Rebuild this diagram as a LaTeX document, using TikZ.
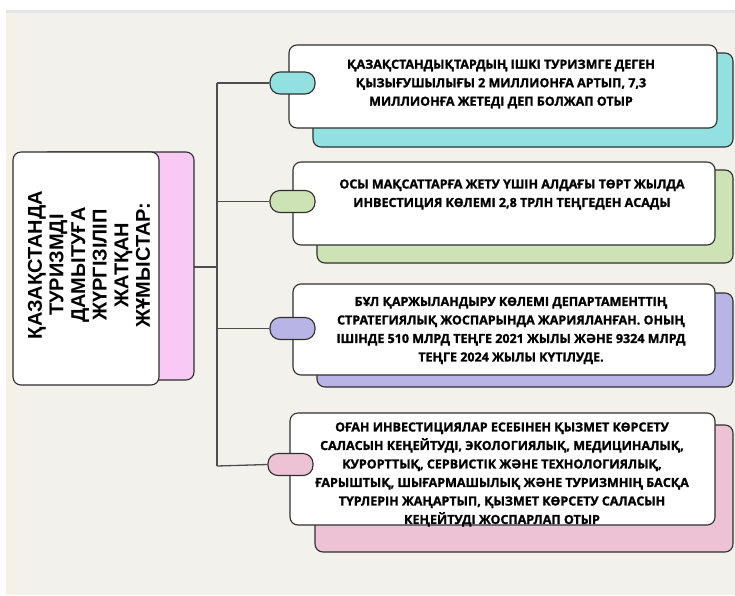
\documentclass[tikz,border=0pt]{standalone}
\usepackage{fontspec}
\setmainfont{Open Sans}[BoldFeatures={FakeBold=1.3}]
\newfontfamily\leftfont{Liberation Sans}
\definecolor{bgbeige}{HTML}{F2F1EC}
\definecolor{bandgrey}{HTML}{E4E5EA}
\definecolor{peach}{HTML}{F7F0E6}
\definecolor{edge}{HTML}{2E2E2E}
\definecolor{cteal}{HTML}{93E0E1}
\definecolor{cgreen}{HTML}{CDE3B5}
\definecolor{cpurple}{HTML}{B9B4E6}
\definecolor{cpink}{HTML}{ECC2D4}
\definecolor{cleft}{HTML}{F9C8F5}
\tikzset{
  frontbox/.style={draw=edge, fill=white, line width=1.1pt, rounded corners=8pt, inner sep=0pt},
  backbox/.style={draw=edge, line width=1.1pt, rounded corners=8pt, inner sep=0pt},
  pill/.style={draw=edge, line width=1.1pt, rounded corners=10pt, minimum width=45pt, minimum height=22pt, inner sep=0pt},
  conn/.style={draw=edge!85, line width=1.3pt},
  bodytext/.style={align=center, text=black, font=\fontsize{12.5}{18.5}\selectfont\bfseries, inner sep=0pt},
  lefttext/.style={align=center, text=black, font=\leftfont\fontsize{20}{21.6}\selectfont\bfseries, inner sep=0pt, rotate=90}
}
\begin{document}
\begin{tikzpicture}[x=1pt,y=-1pt]
\useasboundingbox (0,0) rectangle (735,595);
% background
\fill[white] (0,0) rectangle (735,595);
\fill[bandgrey] (6,10) rectangle (735,13);
\fill[bgbeige] (6,13) rectangle (735,595);
\fill[peach] (6,13) rectangle (14,595);

% connector points
\coordinate (ttop) at (217,83);
\coordinate (tbot) at (217,466);
\coordinate (tmid) at (217,267);

% connectors
\path[conn] (ttop) -- (tbot);
\path[conn] (194,267) -- (tmid);

% left box
\node[backbox, fill=cleft, minimum width=154pt, minimum height=228pt] (lback) at (117,266) {};
\node[frontbox, minimum width=146pt, minimum height=233pt] (lfront) at (86,268.5) {};
\node[lefttext] (ltext) at (89,265) {ҚАЗАҚСТАНДА\\ТУРИЗМДІ\\ДАМЫТУҒА\\ЖҮРГІЗІЛІП\\ЖАТҚАН\\ЖҰМЫСТАР:};

% box 1
\node[backbox, fill=cteal, minimum width=420pt, minimum height=94pt] (b1back) at (523,100) {};
\node[frontbox, minimum width=428pt, minimum height=83pt] (b1) at (503,86.5) {};
\node[pill, fill=cteal] (p1) at (292.5,83) {};
\node[bodytext] (t1) at (501,84) {ҚАЗАҚСТАНДЫҚТАРДЫҢ ІШКІ ТУРИЗМГЕ ДЕГЕН\\ҚЫЗЫҒУШЫЛЫҒЫ 2 МИЛЛИОНҒА АРТЫП, 7,3\\МИЛЛИОНҒА ЖЕТЕДІ ДЕП БОЛЖАП ОТЫР};

% box 2
\node[backbox, fill=cgreen, minimum width=416pt, minimum height=93pt] (b2back) at (525,216.5) {};
\node[frontbox, minimum width=422pt, minimum height=83pt] (b2) at (504,203.5) {};
\node[pill, fill=cgreen] (p2) at (292.5,201.5) {};
\node[bodytext] (t2) at (512,194.5) {ОСЫ МАҚСАТТАРҒА ЖЕТУ ҮШІН АЛДАҒЫ ТӨРТ ЖЫЛДА\\ИНВЕСТИЦИЯ КӨЛЕМІ 2,8 ТРЛН ТЕҢГЕДЕН АСАДЫ};

% box 3
\node[backbox, fill=cpurple, minimum width=416pt, minimum height=94pt] (b3back) at (525,340) {};
\node[frontbox, minimum width=422pt, minimum height=91pt] (b3) at (504,329.5) {};
\node[pill, fill=cpurple] (p3) at (292.5,328.5) {};
\node[bodytext] (t3) at (511,330.5) {БҰЛ ҚАРЖЫЛАНДЫРУ КӨЛЕМІ ДЕПАРТАМЕНТТІҢ\\СТРАТЕГИЯЛЫҚ ЖОСПАРЫНДА ЖАРИЯЛАНҒАН. ОНЫҢ\\ІШІНДЕ 510 МЛРД ТЕҢГЕ 2021 ЖЫЛЫ ЖӘНЕ 9324 МЛРД\\ТЕҢГЕ 2024 ЖЫЛЫ КҮТІЛУДЕ.};

% box 4
\node[backbox, fill=cpink, minimum width=418pt, minimum height=127pt] (b4back) at (524,488.5) {};
\node[frontbox, minimum width=425pt, minimum height=112pt] (b4) at (502.5,469) {};
\node[pill, fill=cpink] (p4) at (290.5,464.5) {};
\node[bodytext] (t4) at (502,474.5) {ОҒАН ИНВЕСТИЦИЯЛАР ЕСЕБІНЕН ҚЫЗМЕТ КӨРСЕТУ\\САЛАСЫН КЕҢЕЙТУДІ, ЭКОЛОГИЯЛЫҚ, МЕДИЦИНАЛЫҚ,\\КУРОРТТЫҚ, СЕРВИСТІК ЖӘНЕ ТЕХНОЛОГИЯЛЫҚ,\\ҒАРЫШТЫҚ, ШЫҒАРМАШЫЛЫҚ ЖӘНЕ ТУРИЗМНІҢ БАСҚА\\ТҮРЛЕРІН ЖАҢАРТЫП, ҚЫЗМЕТ КӨРСЕТУ САЛАСЫН\\КЕҢЕЙТУДІ ЖОСПАРЛАП ОТЫР};

% branch connectors
\path[conn] (ttop) -- (p1.west);
\path[conn] (p2.west -| ttop) -- (p2.west);
\path[conn] (p3.west -| ttop) -- (p3.west);
\path[conn] (tbot) -- (p4.west);
\end{tikzpicture}
\end{document}
